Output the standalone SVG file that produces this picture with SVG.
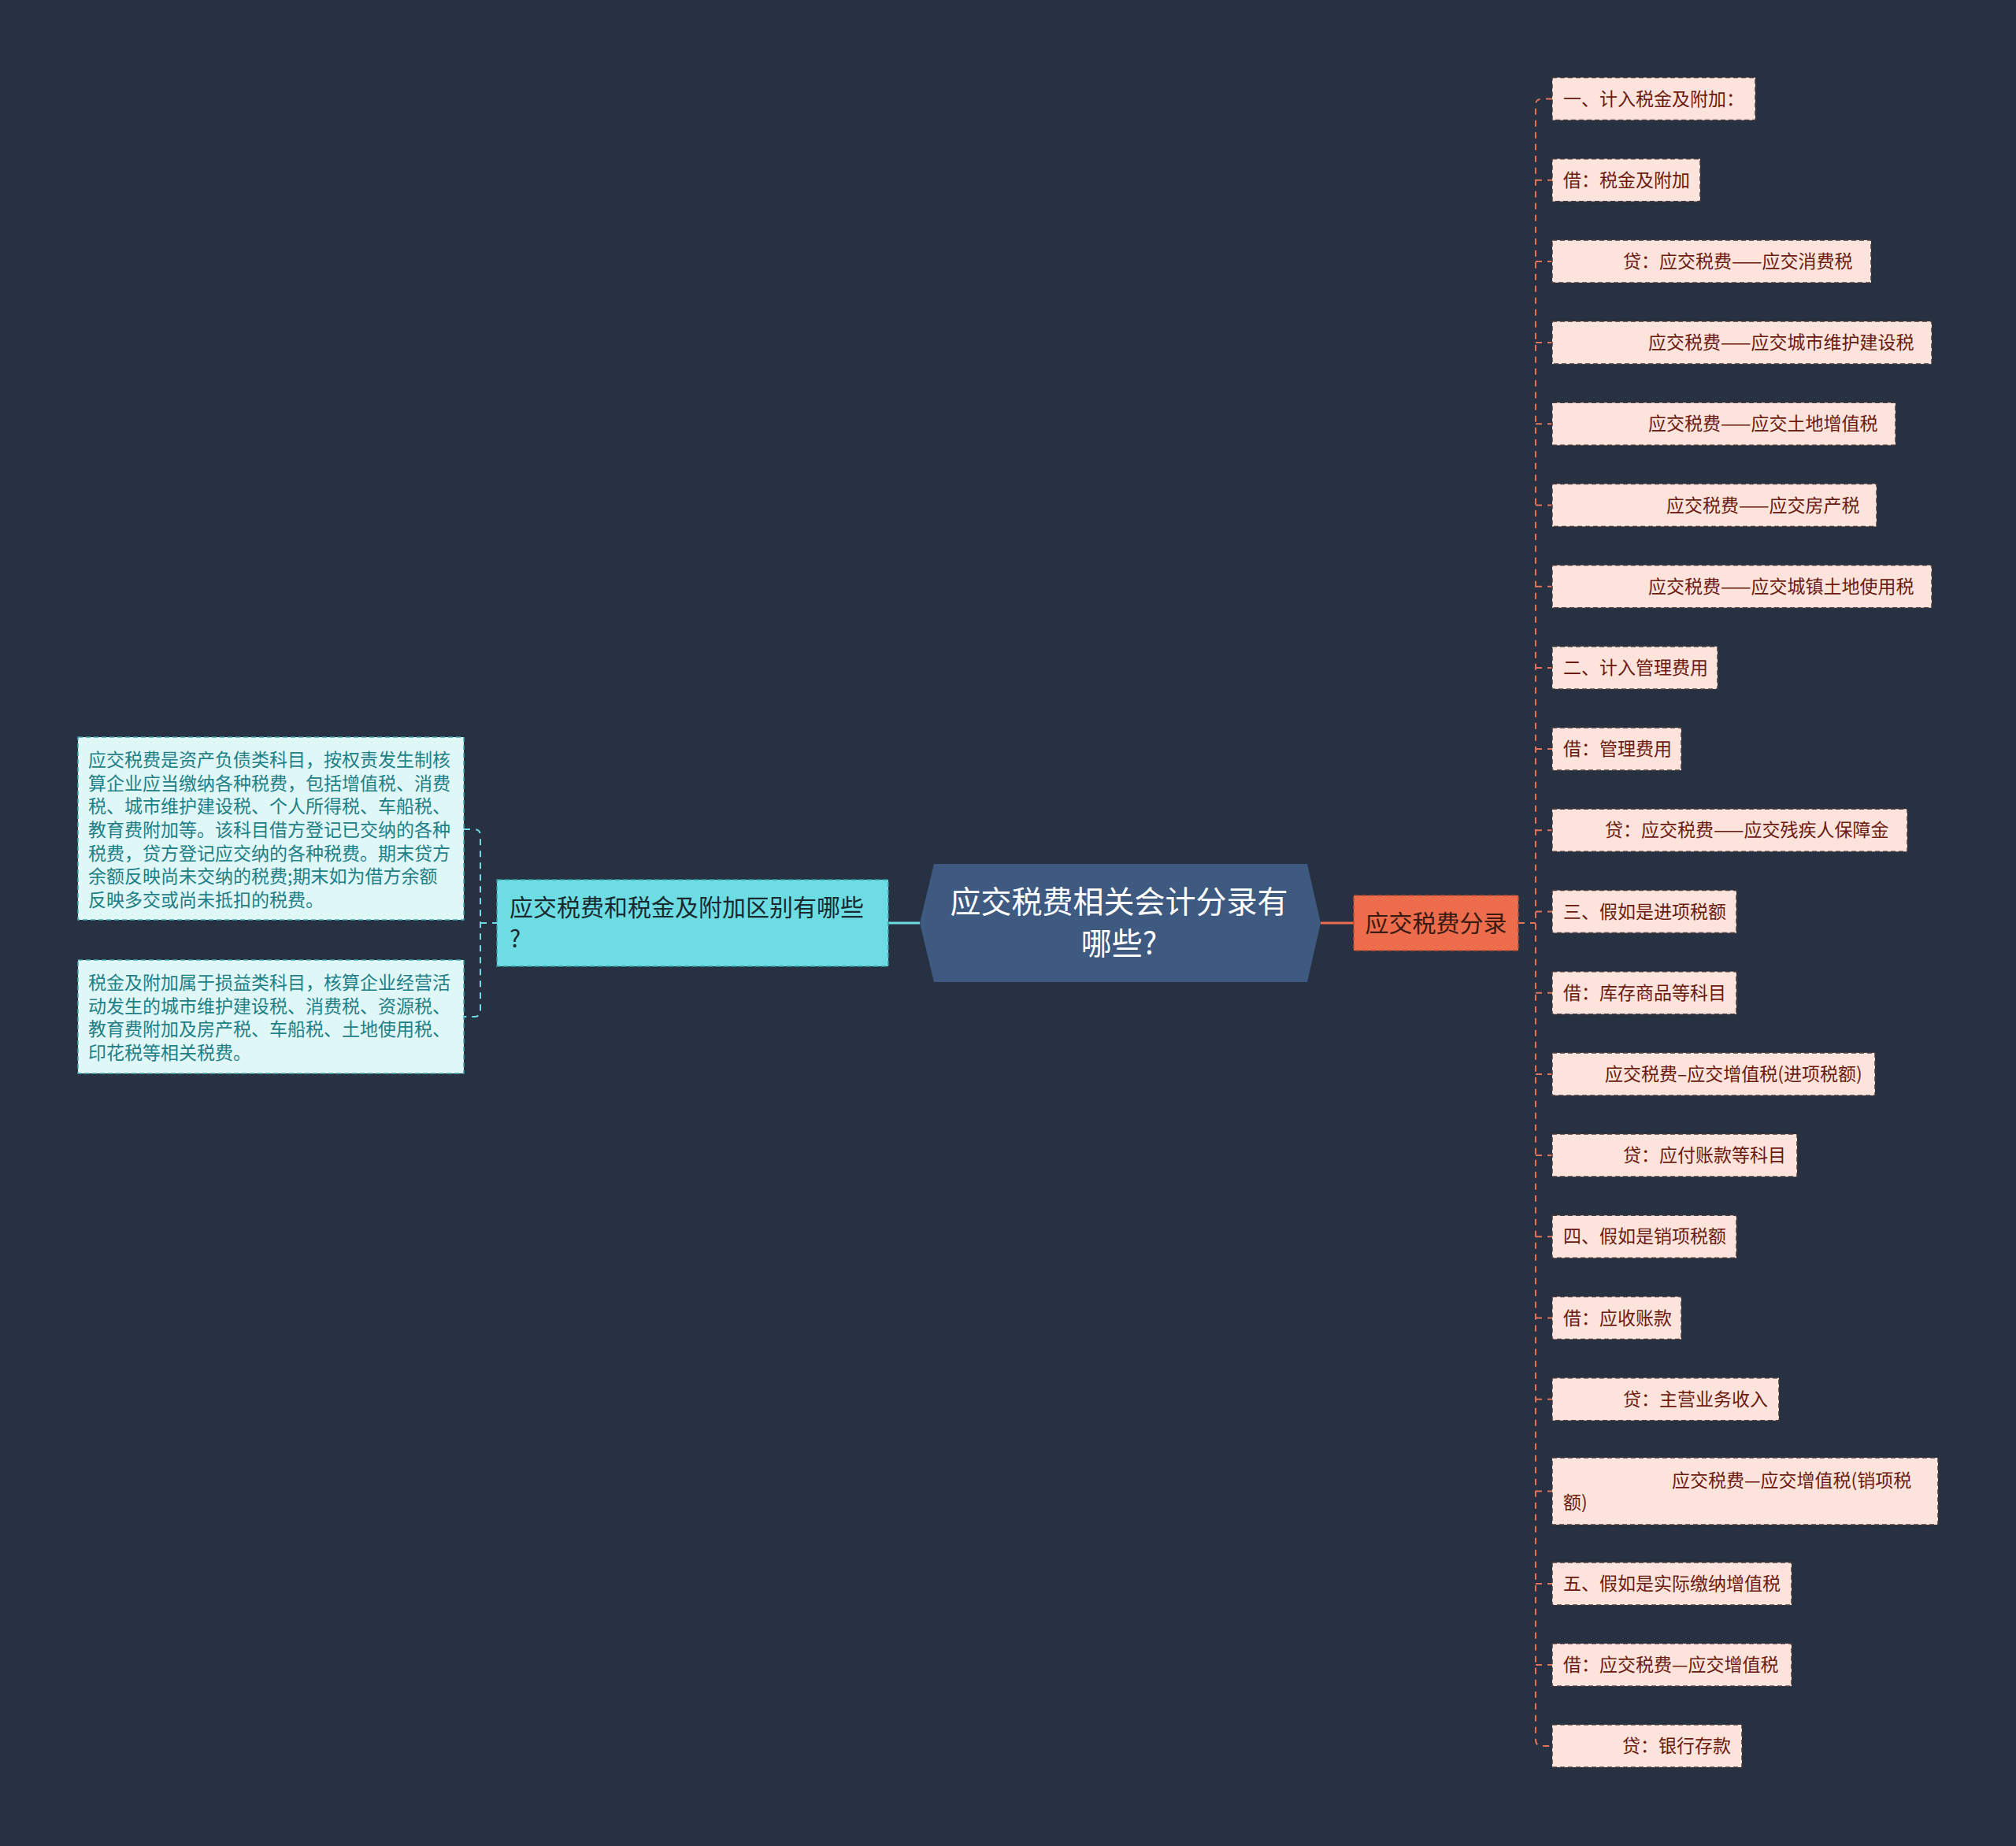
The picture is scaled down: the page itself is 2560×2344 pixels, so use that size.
<svg xmlns="http://www.w3.org/2000/svg" width="2560" height="2344" viewBox="0 0 2560 2344">
<style>
text{font-family:"Noto Sans CJK SC","Noto Sans",sans-serif;}
.leaf rect{fill:#FCE4DC;stroke:#4a3a3a;stroke-width:1.5;stroke-dasharray:6 4;}
.leaf text{font-size:23px;fill:#6B1A10;}
.note rect{fill:#E0F7F8;stroke:#3FA9B0;stroke-width:1.5;stroke-dasharray:6 4;}
.note text{font-size:23px;fill:#1E7F86;}
.e{text-anchor:end;}
.cr{fill:none;stroke:#E0735A;stroke-width:2;stroke-dasharray:8 7;}
.cl{fill:none;stroke:#6DDDE3;stroke-width:2;stroke-dasharray:8 7;}
</style>
<rect x="0" y="0" width="2560" height="2344" fill="#283142"/>
<g id="connectors">
<line x1="1128" y1="1172" x2="1168" y2="1172" stroke="#6DDDE3" stroke-width="3"/>
<line x1="1677" y1="1172" x2="1719" y2="1172" stroke="#EC6C4C" stroke-width="3"/>
<path class="cl" d="M589 1053 H602 Q610 1053 610 1061 V1283 Q610 1291 602 1291 H589"/>
<path class="cl" d="M610 1172 H631"/>
<path class="cr" d="M1928 1172 H1950"/>
<path class="cr" d="M1971 125.5 H1958 Q1950 125.5 1950 133.5 V2209 Q1950 2217 1958 2217 H1971"/>
<path class="cr" d="M1950 228.7H1971M1950 331.9H1971M1950 435.1H1971M1950 538.3H1971M1950 641.5H1971M1950 744.7H1971M1950 847.9H1971M1950 951.1H1971M1950 1054.3H1971M1950 1157.5H1971M1950 1260.7H1971M1950 1363.9H1971M1950 1467.1H1971M1950 1570.3H1971M1950 1673.5H1971M1950 1776.7H1971M1950 1893.5H1971M1950 2011H1971M1950 2114H1971"/>
</g>
<g id="root">
<polygon points="1186,1097 1660,1097 1677,1172 1660,1247 1186,1247 1168,1172" fill="#3E5A80"/>
<text x="1421" y="1159" font-size="39" fill="#FFFFFF" text-anchor="middle">应交税费相关会计分录有</text>
<text x="1421" y="1212" font-size="39" fill="#FFFFFF" text-anchor="middle">哪些?</text>
</g>
<g id="branch-left">
<rect x="631" y="1117" width="497" height="110" fill="#6DDDE3" stroke="#2E9AA3" stroke-width="1.5" stroke-dasharray="6 4"/>
<text x="647" y="1163" font-size="30" fill="#1A2A30">应交税费和税金及附加区别有哪些</text>
<text x="647" y="1203" font-size="30" fill="#1A2A30">?</text>
</g>
<g id="branch-right">
<rect x="1719" y="1137" width="209" height="70" fill="#EC6C4C" stroke="#B04A30" stroke-width="1.5" stroke-dasharray="6 4"/>
<text x="1823.5" y="1183" font-size="30" fill="#3A1A12" text-anchor="middle">应交税费分录</text>
</g>
<g id="note-1" class="note">
<rect x="99" y="936" width="490" height="232"/>
<text x="112" y="973">应交税费是资产负债类科目，按权责发生制核</text>
<text x="112" y="1003">算企业应当缴纳各种税费，包括增值税、消费</text>
<text x="112" y="1032">税、城市维护建设税、个人所得税、车船税、</text>
<text x="112" y="1062">教育费附加等。该科目借方登记已交纳的各种</text>
<text x="112" y="1092">税费，贷方登记应交纳的各种税费。期末贷方</text>
<text x="112" y="1121">余额反映尚未交纳的税费;期末如为借方余额</text>
<text x="112" y="1151">反映多交或尚未抵扣的税费。</text>
</g>
<g id="note-2" class="note">
<rect x="99" y="1219" width="490" height="144"/>
<text x="112" y="1256">税金及附加属于损益类科目，核算企业经营活</text>
<text x="112" y="1286">动发生的城市维护建设税、消费税、资源税、</text>
<text x="112" y="1315">教育费附加及房产税、车船税、土地使用税、</text>
<text x="112" y="1345">印花税等相关税费。</text>
</g>
<g id="leaf-0" class="leaf"><rect x="1971" y="98.5" width="258" height="54"/><text x="1985" y="133.5">一、计入税金及附加：</text></g>
<g id="leaf-1" class="leaf"><rect x="1971" y="201.7" width="188" height="54"/><text x="1985" y="236.7">借：税金及附加</text></g>
<g id="leaf-2" class="leaf"><rect x="1971" y="304.9" width="405" height="54"/><text x="2061" y="339.9">贷：应交税费——应交消费税</text></g>
<g id="leaf-3" class="leaf"><rect x="1971" y="408.1" width="482" height="54"/><text x="2093" y="443.1">应交税费——应交城市维护建设税</text></g>
<g id="leaf-4" class="leaf"><rect x="1971" y="511.3" width="436" height="54"/><text x="2093" y="546.3">应交税费——应交土地增值税</text></g>
<g id="leaf-5" class="leaf"><rect x="1971" y="614.5" width="412" height="54"/><text x="2116" y="649.5">应交税费——应交房产税</text></g>
<g id="leaf-6" class="leaf"><rect x="1971" y="717.7" width="482" height="54"/><text x="2093" y="752.7">应交税费——应交城镇土地使用税</text></g>
<g id="leaf-7" class="leaf"><rect x="1971" y="820.9" width="210" height="54"/><text x="1985" y="855.9">二、计入管理费用</text></g>
<g id="leaf-8" class="leaf"><rect x="1971" y="924.1" width="164" height="54"/><text x="1985" y="959.1">借：管理费用</text></g>
<g id="leaf-9" class="leaf"><rect x="1971" y="1027.3" width="451" height="54"/><text x="2038" y="1062.3">贷：应交税费——应交残疾人保障金</text></g>
<g id="leaf-10" class="leaf"><rect x="1971" y="1130.5" width="234" height="54"/><text x="1985" y="1165.5">三、假如是进项税额</text></g>
<g id="leaf-11" class="leaf"><rect x="1971" y="1233.7" width="234" height="54"/><text x="1985" y="1268.7">借：库存商品等科目</text></g>
<g id="leaf-12" class="leaf"><rect x="1971" y="1336.9" width="410" height="54"/><text x="2038" y="1371.9">应交税费–应交增值税(进项税额)</text></g>
<g id="leaf-13" class="leaf"><rect x="1971" y="1440.1" width="311" height="54"/><text class="e" x="2268" y="1475.1">贷：应付账款等科目</text></g>
<g id="leaf-14" class="leaf"><rect x="1971" y="1543.3" width="234" height="54"/><text x="1985" y="1578.3">四、假如是销项税额</text></g>
<g id="leaf-15" class="leaf"><rect x="1971" y="1646.5" width="164" height="54"/><text x="1985" y="1681.5">借：应收账款</text></g>
<g id="leaf-16" class="leaf"><rect x="1971" y="1749.7" width="288" height="54"/><text class="e" x="2245" y="1784.7">贷：主营业务收入</text></g>
<g id="leaf-17" class="leaf"><rect x="1971" y="1851" width="490" height="85"/><text x="2123" y="1888">应交税费—应交增值税(销项税</text><text x="1985" y="1916">额)</text></g>
<g id="leaf-18" class="leaf"><rect x="1971" y="1984" width="304" height="54"/><text x="1985" y="2019">五、假如是实际缴纳增值税</text></g>
<g id="leaf-19" class="leaf"><rect x="1971" y="2087" width="304" height="54"/><text x="1985" y="2122">借：应交税费—应交增值税</text></g>
<g id="leaf-20" class="leaf"><rect x="1971" y="2190" width="241" height="54"/><text class="e" x="2198" y="2225">贷：银行存款</text></g>
</svg>
